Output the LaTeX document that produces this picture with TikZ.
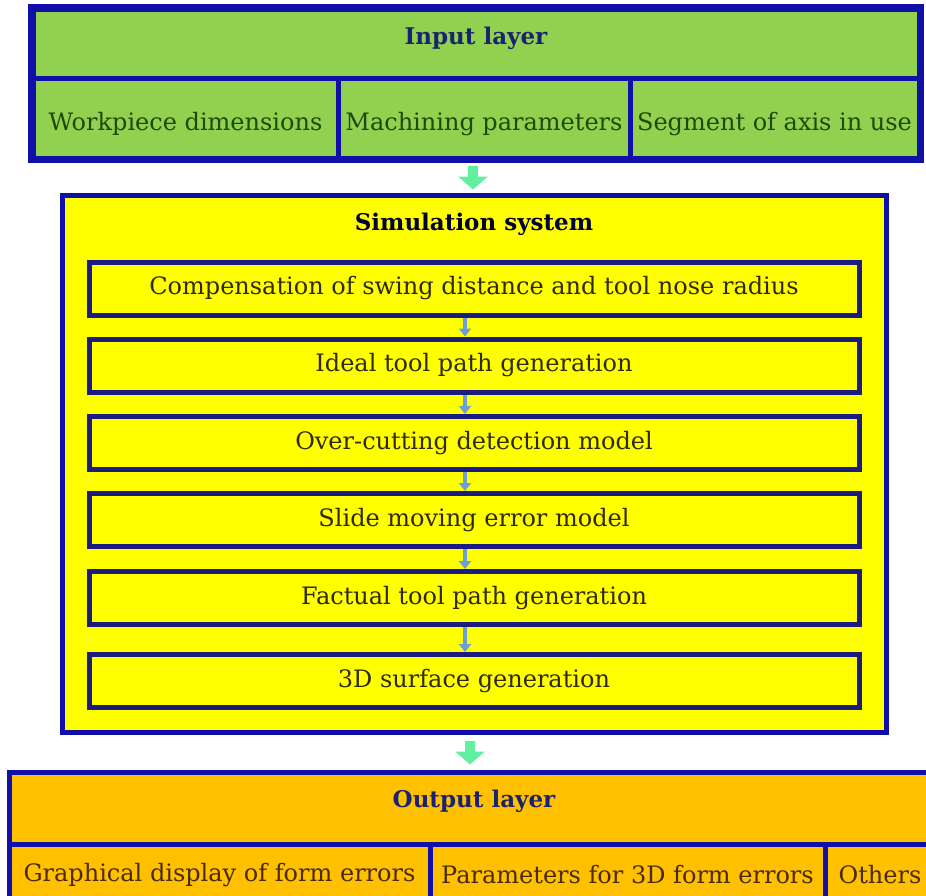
\documentclass[tikz,border=0pt]{standalone}
\usepackage{fontspec}
\setmainfont{DejaVu Serif}
\usetikzlibrary{arrows.meta}
\definecolor{inpfill}{HTML}{92D050}
\definecolor{simfill}{HTML}{FFFF00}
\definecolor{outfill}{HTML}{FFC000}
\definecolor{outerline}{HTML}{1010A8}
\definecolor{innerline}{HTML}{1C1C80}
\definecolor{mint}{HTML}{60F0A0}
\definecolor{stepblue}{HTML}{6A9FD8}
\definecolor{titleblue}{HTML}{1A2370}
\definecolor{greentext}{HTML}{1E4A08}
\definecolor{olivetext}{HTML}{2E2A05}
\definecolor{browntext}{HTML}{4A2A08}
\tikzset{
  x=1pt, y=-1pt,
  layerbox/.style={draw=outerline, line width=5pt, inner sep=0pt},
  cellbox/.style={draw=outerline, line width=5pt, inner sep=0pt},
  celltext/.style={font=\fontsize{24}{28}\selectfont, inner sep=0pt},
  stagebox/.style={draw=innerline, line width=5pt, fill=simfill, inner sep=0pt,
    minimum width=770pt, minimum height=53pt, text=olivetext, font=\fontsize{24}{28}\selectfont},
  headtext/.style={font=\bfseries\fontsize{23}{27}\selectfont, text=titleblue},
  bigarrow/.style={mint, line width=10pt, -{Triangle[width=29pt,length=13pt]}},
  smallarrow/.style={stepblue, line width=3.5pt, -{Triangle[width=12pt,length=8pt]}},
}
\begin{document}
\begin{tikzpicture}
\useasboundingbox (0,0) rectangle (926,895);
\clip (0,0) rectangle (926,895);
\fill[white] (0,0) rectangle (926,895);

% input layer
\node[layerbox, fill=inpfill, minimum width=886pt, minimum height=149pt] (inp) at (476,83.5) {};
\node[headtext] (inptitle) at (476,38) {Input layer};
\node[cellbox, fill=inpfill, minimum width=305pt, minimum height=80pt] (in1) at (185.5,118) {};
\node[cellbox, fill=inpfill, minimum width=292pt, minimum height=80pt] (in2) at (484,118) {};
\node[cellbox, fill=inpfill, minimum width=289pt, minimum height=80pt] (in3) at (774.5,118) {};
\node[celltext, text=greentext] (in1t) at ([yshift=-6pt]in1.center) {Workpiece dimensions};
\node[celltext, text=greentext] (in2t) at ([yshift=-6pt]in2.center) {Machining parameters};
\node[celltext, text=greentext] (in3t) at ([yshift=-6pt]in3.center) {Segment of axis in use};
\draw[outerline, line width=5pt] (inp.north west) rectangle (inp.south east);

% simulation system
\node[layerbox, fill=simfill, minimum width=824pt, minimum height=537pt] (sim) at (474,463.5) {};
\node[headtext, text=black!80!blue] (simtitle) at (474,224) {Simulation system};
\node[stagebox] (s1) at (474,288.5) {Compensation of swing distance and tool nose radius};
\node[stagebox] (s2) at (474,365.5) {Ideal tool path generation};
\node[stagebox] (s3) at (474,443) {Over-cutting detection model};
\node[stagebox] (s4) at (474,520) {Slide moving error model};
\node[stagebox] (s5) at (474,598) {Factual tool path generation};
\node[stagebox] (s6) at (474,681) {3D surface generation};
\foreach \a/\b in {s1/s2,s2/s3,s3/s4,s4/s5,s5/s6}
  \draw[smallarrow] ([xshift=-9pt]\a.south) -- ([xshift=-9pt]\b.north);

% output layer
\node[layerbox, fill=outfill, minimum width=930pt, minimum height=140pt] (out) at (474,842) {};
\node[headtext] (outtitle) at (474,801) {Output layer};
\node[cellbox, fill=outfill, minimum width=421pt, minimum height=70pt] (o1) at (219.5,879) {};
\node[cellbox, fill=outfill, minimum width=395pt, minimum height=70pt] (o2) at (627.5,879) {};
\node[cellbox, fill=outfill, minimum width=130pt, minimum height=70pt] (o3) at (890,879) {};
\node[celltext, text=browntext] (o1t) at (219.5,875) {Graphical display of form errors};
\node[celltext, text=browntext] (o2t) at (627.5,875) {Parameters for 3D form errors};
\node[celltext, text=browntext] (o3t) at (880,875) {Others};

% flow between layers
\draw[bigarrow] ([xshift=-3pt,yshift=-5pt]inp.south) -- ([xshift=-1pt,yshift=3pt]sim.north);
\draw[bigarrow] ([xshift=-4pt,yshift=-6pt]sim.south) -- ([xshift=-4pt,yshift=5pt]out.north);
\end{tikzpicture}
\end{document}
